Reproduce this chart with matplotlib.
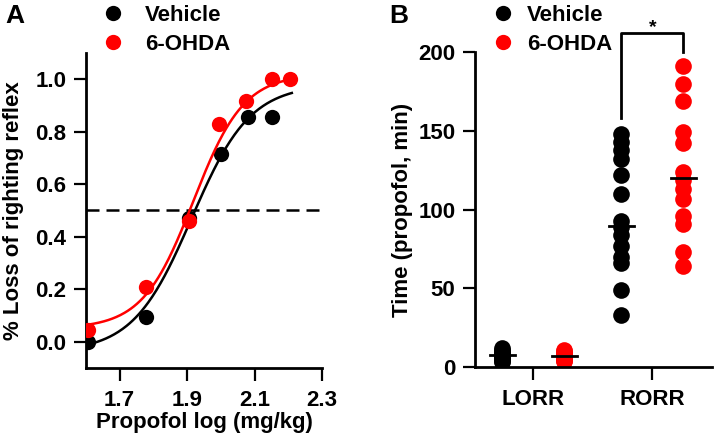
import matplotlib.pyplot as plt
from matplotlib.lines import Line2D
import numpy as np

plt.rcParams['font.family'] = ['Liberation Sans', 'DejaVu Sans']
plt.rcParams['font.weight'] = 'bold'
plt.rcParams['axes.labelweight'] = 'bold'

# panel A: dose response
veh_dose = [1.605, 1.779, 1.904, 2.0, 2.08, 2.152]
veh_resp = [0.0, 0.095, 0.47, 0.715, 0.857, 0.857]
ohda_dose = [1.605, 1.779, 1.904, 1.995, 2.075, 2.15, 2.206]
ohda_resp = [0.044, 0.21, 0.46, 0.83, 0.917, 1.0, 1.0]
# fitted logistic curves: bottom, top, log EC50, hill slope
veh_fit = [-0.04, 0.98, 1.913, 5.0]
ohda_fit = [0.05, 1.02, 1.918, 5.8]
fit_range = [1.605, 2.21]

# panel B: time to LORR / RORR
groups = ['LORR', 'RORR']
veh_lorr = [12, 11, 10, 9, 8, 8, 7, 7, 6, 6, 5, 5, 4, 3]
veh_rorr = [148, 143, 138, 132, 122, 110, 93, 89, 84, 77, 70, 66, 49, 33]
ohda_lorr = [11, 10, 9, 8, 8, 7, 7, 6, 6, 5, 5, 4, 4]
ohda_rorr = [191, 180, 169, 149, 142, 124, 119, 113, 107, 96, 91, 73, 64]
veh_center = [7.6, 89.5]
ohda_center = [7.3, 120]

RED = '#ff0000'


def logistic(x, p):
    b, t, c, h = p
    return b + (t - b) / (1 + 10 ** ((c - x) * h))


def legend_handles(ms):
    return [Line2D([], [], ls='none', marker='o', ms=ms, color='black', mec='none', label='Vehicle'),
            Line2D([], [], ls='none', marker='o', ms=ms, color=RED, mec='none', label='6-OHDA')]


fig = plt.figure(figsize=(7.16, 4.38), dpi=100)

# ---------------- A ----------------
ax = fig.add_axes([0.120, 0.160, 0.330, 0.719])
xs = np.linspace(fit_range[0], fit_range[1], 200)
ax.axhline(0.5, color='black', lw=1.8, dashes=(5.2, 2.8), zorder=1)
ax.plot(veh_dose, veh_resp, 'o', color='black', ms=11, mec='none', zorder=2)
ax.plot(xs, logistic(xs, veh_fit), color='black', lw=1.8, zorder=3)
ax.plot(ohda_dose, ohda_resp, 'o', color=RED, ms=11, mec='none', zorder=4)
ax.plot(xs, logistic(xs, ohda_fit), color=RED, lw=1.8, zorder=5)
ax.set_xlim(1.6, 2.3)
ax.set_ylim(-0.1, 1.1)
ax.set_xticks([1.7, 1.9, 2.1, 2.3])
ax.set_xticklabels(['1.7', '1.9', '2.1', '2.3'])
ax.set_yticks([0.0, 0.2, 0.4, 0.6, 0.8, 1.0])
ax.set_yticklabels(['0.0', '0.2', '0.4', '0.6', '0.8', '1.0'])
ax.set_xlabel('Propofol log (mg/kg)', fontsize=16)
ax.set_ylabel('% Loss of righting reflex', fontsize=16)
ax.yaxis.set_label_coords(-0.263, 0.5)
ax.xaxis.set_label_coords(0.5, -0.14)
ax.legend(handles=legend_handles(11),
          loc='upper left', bbox_to_anchor=(0.1425, 0.989), bbox_transform=fig.transFigure,
          frameon=False, fontsize=16, handlelength=1.0, handletextpad=0.94,
          labelspacing=0.38, borderpad=0, borderaxespad=0)
fig.text(0.007, 0.99, 'A', fontsize=19, fontweight='bold', va='top')

# ---------------- B ----------------
bx = fig.add_axes([0.6634, 0.162, 0.331, 0.719])
off = 0.26
for i in range(len(groups)):
    vv = [veh_lorr, veh_rorr][i]
    oo = [ohda_lorr, ohda_rorr][i]
    bx.plot([i - off] * len(vv), vv, 'o', color='black', ms=12, mec='none', zorder=2)
    bx.plot([i + off] * len(oo), oo, 'o', color=RED, ms=12, mec='none', zorder=2)
    bx.plot([i - off - 0.105, i - off + 0.105], [veh_center[i]] * 2, color='black', lw=2, zorder=3)
    bx.plot([i + off - 0.105, i + off + 0.105], [ohda_center[i]] * 2, color='black', lw=2, zorder=3)
# significance bracket
bx.plot([1 - off, 1 - off, 1 + off, 1 + off], [max(veh_rorr) + 10, 212, 212, 200],
        color='black', lw=2, clip_on=False)
bx.text(1, 210, '*', ha='center', va='bottom', fontsize=14, fontweight='bold')
bx.set_xlim(-0.49, 1.5)
bx.set_ylim(0, 200)
bx.set_xticks(range(len(groups)))
bx.set_xticklabels(groups)
bx.set_yticks([0, 50, 100, 150, 200])
bx.set_ylabel('Time (propofol, min)', fontsize=16)
bx.yaxis.set_label_coords(-0.262, 0.5)
bx.legend(handles=legend_handles(11),
          loc='upper left', bbox_to_anchor=(0.687, 0.989), bbox_transform=fig.transFigure,
          frameon=False, fontsize=16, handlelength=1.0, handletextpad=0.58,
          labelspacing=0.38, borderpad=0, borderaxespad=0)
fig.text(0.543, 0.99, 'B', fontsize=19, fontweight='bold', va='top')

for a in (ax, bx):
    for s in ('top', 'right'):
        a.spines[s].set_visible(False)
    for s in ('left', 'bottom'):
        a.spines[s].set_linewidth(2)
    a.tick_params(direction='out', length=9, width=1.6, labelsize=16)
    a.tick_params(axis='x', pad=7)
    a.tick_params(axis='y', pad=5)
    for lab in a.get_xticklabels() + a.get_yticklabels():
        lab.set_fontweight('bold')

fig.savefig('out.png', dpi=100)
